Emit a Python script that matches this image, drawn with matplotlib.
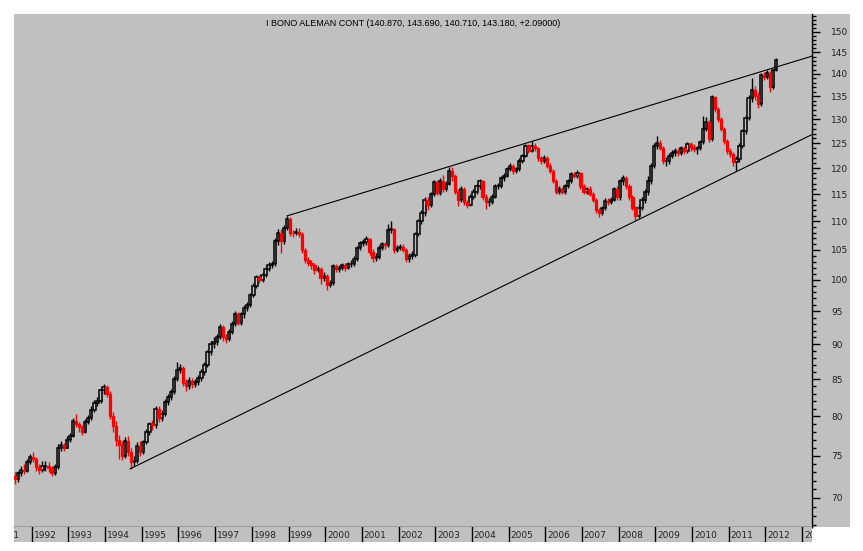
import matplotlib as mpl
mpl.use("Agg")
import matplotlib.pyplot as plt
from matplotlib.patches import Rectangle
from matplotlib.ticker import FixedLocator, NullFormatter
import numpy as np
import pandas as pd

# monthly bars, Jul 1991 .. Apr 2012
first_month = "1991-07"

opens = [
    72.5, 72.2, 72.9, 73.3, 73.2, 74.2,
    74.8, 74.6, 73.6, 73.3, 73.7, 73.8, 73.5, 72.9, 73.6, 76.0, 76.3, 76.0,
    77.0, 77.5, 79.4, 79.0, 78.6, 78.0, 79.3, 79.8, 80.8, 81.7, 82.0, 83.5,
    83.9, 83.0, 80.0, 78.7, 77.0, 76.3, 75.0, 76.8, 75.5, 74.2, 74.4, 76.2,
    75.5, 76.7, 78.0, 79.0, 78.8, 81.0, 79.8, 80.3, 81.9, 82.5, 83.3, 85.0,
    86.3, 86.5, 84.5, 84.0, 84.8, 84.3, 84.6, 85.2, 86.0, 87.0, 88.8, 90.0,
    90.3, 91.0, 92.5, 91.0, 90.8, 91.8, 93.0, 94.5, 93.2, 94.5, 95.5, 96.0,
    97.5, 99.0, 100.4, 100.0, 100.8, 101.8, 102.5, 102.6, 106.6, 108.0, 106.5, 108.9,
    110.5, 108.0, 107.9, 108.2, 107.8, 104.9, 103.3, 102.8, 102.4, 101.6, 101.8, 100.3,
    100.6, 99.2, 99.5, 102.2, 101.8, 102.0, 102.4, 102.0, 102.6, 102.6, 103.5, 105.3,
    106.2, 106.3, 106.8, 104.6, 103.6, 103.8, 105.4, 106.0, 105.8, 108.5, 108.7, 105.0,
    105.3, 105.5, 105.0, 103.5, 104.0, 104.2, 107.8, 110.0, 111.5, 114.0, 113.0, 115.0,
    117.3, 115.2, 117.5, 116.0, 117.0, 119.5, 118.5, 115.5, 114.0, 116.0, 113.5, 113.0,
    114.5, 115.5, 116.5, 117.5, 114.5, 113.5, 113.5, 114.5, 116.5, 116.5, 118.0, 118.5,
    119.8, 120.5, 119.5, 119.8, 121.5, 122.5, 124.5, 123.5, 124.5, 124.0, 122.0, 121.5,
    122.0, 120.5, 119.5, 117.5, 115.5, 116.0, 115.5, 116.5, 117.5, 118.8, 118.5, 119.0,
    116.5, 115.5, 116.0, 115.0, 114.0, 112.0, 111.5, 112.5, 113.8, 113.5, 114.0, 116.0,
    114.5, 117.5, 118.0, 116.5, 114.5, 112.5, 111.0, 112.5, 114.0, 115.5, 117.5, 120.5,
    124.5, 125.0, 124.0, 121.5, 121.5, 122.5, 123.0, 123.5, 123.0, 124.0, 123.5, 124.8,
    124.3, 123.8, 124.0, 125.2, 128.0, 129.5, 125.8, 134.8, 132.2, 130.0, 128.0, 125.5,
    123.5, 122.8, 121.2, 121.8, 124.5, 127.5, 130.3, 134.5, 136.4, 135.0, 133.2, 139.8,
    139.4, 140.2, 137.0, 140.87,
]

highs = [
    73.0, 73.2, 73.8, 74.0, 74.6, 75.2,
    75.5, 74.9, 74.0, 74.3, 74.4, 74.2, 73.8, 74.0, 76.5, 76.8, 76.6, 77.4,
    77.9, 79.8, 80.3, 79.3, 78.9, 79.6, 80.2, 81.3, 82.1, 82.6, 83.8, 84.3,
    84.2, 83.4, 80.6, 79.4, 77.6, 76.8, 77.3, 77.5, 76.0, 75.0, 76.7, 76.8,
    77.0, 78.3, 79.3, 79.5, 81.4, 81.4, 80.8, 82.3, 83.0, 83.7, 85.4, 87.4,
    87.2, 86.8, 85.0, 85.3, 85.2, 85.0, 85.6, 86.4, 87.4, 89.2, 90.5, 91.0,
    91.5, 93.0, 92.8, 91.5, 92.2, 93.4, 95.0, 94.8, 94.9, 95.9, 96.5, 97.9,
    99.4, 100.8, 100.7, 101.2, 102.2, 102.9, 103.1, 107.0, 108.6, 108.7, 109.3, 111.0,
    110.8, 108.5, 108.8, 108.9, 108.1, 105.3, 103.8, 103.2, 102.8, 102.2, 102.1, 101.2,
    100.9, 100.0, 102.6, 102.6, 102.4, 102.8, 102.8, 103.0, 103.2, 103.9, 105.7, 106.6,
    106.9, 107.4, 107.1, 105.2, 104.4, 105.8, 106.4, 106.4, 109.5, 110.0, 108.9, 105.9,
    106.0, 106.0, 105.4, 104.5, 104.8, 108.2, 110.5, 112.0, 114.5, 114.5, 115.4, 117.7,
    117.8, 118.0, 118.6, 117.5, 120.3, 120.2, 118.9, 116.0, 116.5, 116.4, 114.0, 115.0,
    116.0, 117.0, 117.9, 117.8, 115.0, 114.2, 115.0, 116.9, 117.1, 118.4, 119.0, 120.3,
    121.0, 120.9, 120.3, 122.0, 122.9, 124.9, 124.8, 125.4, 125.0, 124.3, 122.5, 122.6,
    122.4, 121.0, 119.9, 117.9, 116.6, 116.4, 116.9, 117.9, 119.2, 119.3, 119.6, 119.3,
    116.9, 116.4, 116.5, 115.4, 114.3, 112.5, 112.9, 114.3, 114.3, 114.5, 116.4, 116.5,
    117.9, 118.6, 118.5, 116.9, 114.9, 112.9, 113.0, 114.4, 116.0, 118.5, 121.0, 125.0,
    126.5, 125.6, 124.4, 122.3, 123.0, 123.6, 124.0, 124.0, 124.5, 124.5, 125.3, 125.2,
    124.9, 124.5, 125.6, 130.6, 130.4, 129.9, 135.3, 135.0, 132.6, 130.4, 128.4, 125.9,
    124.0, 123.3, 122.5, 125.0, 128.0, 130.8, 135.2, 139.0, 137.2, 136.0, 140.3, 140.5,
    140.8, 140.6, 141.2, 143.69,
]

lows = [
    71.6, 71.9, 72.6, 72.8, 73.0, 74.0,
    74.2, 73.2, 72.8, 73.0, 73.2, 73.0, 72.5, 72.7, 73.4, 75.6, 75.6, 75.9,
    76.7, 77.3, 78.6, 78.0, 77.6, 77.8, 79.0, 79.5, 80.5, 81.3, 81.8, 83.0,
    82.5, 79.7, 78.0, 76.2, 74.6, 74.5, 74.7, 75.0, 73.4, 73.7, 74.1, 75.0,
    75.2, 76.4, 77.6, 78.2, 78.5, 79.3, 79.4, 80.0, 81.5, 82.1, 83.0, 84.8,
    85.8, 84.0, 83.4, 83.7, 83.8, 83.9, 84.2, 84.8, 85.6, 86.7, 88.4, 89.5,
    89.9, 90.7, 90.5, 90.2, 90.4, 91.5, 92.7, 92.8, 92.9, 94.0, 95.0, 95.7,
    97.2, 98.7, 99.4, 99.7, 100.5, 101.4, 102.0, 102.3, 105.9, 104.4, 106.1, 108.5,
    107.4, 107.3, 107.5, 107.2, 104.5, 102.7, 102.3, 101.8, 101.0, 101.2, 99.3, 99.8,
    98.3, 98.8, 99.2, 101.2, 101.3, 101.6, 101.4, 101.7, 102.1, 102.2, 103.1, 104.9,
    105.6, 105.9, 104.2, 103.0, 103.1, 103.5, 105.0, 105.2, 105.5, 107.9, 104.5, 104.6,
    104.9, 104.6, 102.9, 103.0, 103.4, 103.8, 107.4, 109.5, 111.0, 112.0, 112.6, 114.6,
    114.8, 114.9, 115.5, 115.6, 116.7, 117.6, 115.0, 112.8, 113.6, 113.0, 112.4, 112.8,
    114.1, 115.0, 116.0, 114.0, 112.2, 112.9, 113.1, 114.2, 115.9, 116.1, 117.5, 118.2,
    119.4, 118.9, 119.0, 119.5, 121.1, 122.2, 123.0, 123.2, 123.5, 121.5, 120.8, 121.0,
    120.1, 119.1, 117.1, 115.0, 115.1, 115.0, 115.1, 116.1, 117.1, 118.0, 118.1, 116.0,
    115.0, 115.1, 114.6, 113.6, 111.6, 110.8, 111.1, 112.1, 113.0, 113.1, 113.7, 114.0,
    114.0, 116.8, 116.0, 114.0, 112.1, 110.2, 110.6, 112.0, 113.4, 114.8, 117.0, 120.0,
    123.9, 123.6, 120.9, 120.5, 120.9, 122.0, 122.5, 122.4, 122.7, 122.8, 123.0, 123.5,
    123.3, 122.9, 123.7, 124.9, 127.6, 125.3, 125.4, 131.5, 129.5, 127.5, 124.9, 122.8,
    122.2, 120.5, 119.4, 121.3, 124.1, 127.0, 129.8, 133.8, 134.2, 132.5, 132.9, 138.6,
    138.9, 136.0, 136.6, 140.71,
]

closes = [
    72.2, 72.9, 73.3, 73.2, 74.2, 74.8,
    74.6, 73.6, 73.3, 73.7, 73.8, 73.5, 72.9, 73.6, 76.0, 76.3, 76.0, 77.0,
    77.5, 79.4, 79.0, 78.6, 78.0, 79.3, 79.8, 80.8, 81.7, 82.0, 83.5, 83.9,
    83.0, 80.0, 78.7, 77.0, 76.3, 75.0, 76.8, 75.5, 74.2, 74.4, 76.2, 75.5,
    76.7, 78.0, 79.0, 78.8, 81.0, 79.8, 80.3, 81.9, 82.5, 83.3, 85.0, 86.3,
    86.5, 84.5, 84.0, 84.8, 84.3, 84.6, 85.2, 86.0, 87.0, 88.8, 90.0, 90.3,
    91.0, 92.5, 91.0, 90.8, 91.8, 93.0, 94.5, 93.2, 94.5, 95.5, 96.0, 97.5,
    99.0, 100.4, 100.0, 100.8, 101.8, 102.5, 102.6, 106.6, 108.0, 106.5, 108.9, 110.5,
    108.0, 107.9, 108.2, 107.8, 104.9, 103.3, 102.8, 102.4, 101.6, 101.8, 100.3, 100.6,
    99.2, 99.5, 102.2, 101.8, 102.0, 102.4, 102.0, 102.6, 102.6, 103.5, 105.3, 106.2,
    106.3, 106.8, 104.6, 103.6, 103.8, 105.4, 106.0, 105.8, 108.5, 108.7, 105.0, 105.3,
    105.5, 105.0, 103.5, 104.0, 104.2, 107.8, 110.0, 111.5, 114.0, 113.0, 115.0, 117.3,
    115.2, 117.5, 116.0, 117.0, 119.5, 118.5, 115.5, 114.0, 116.0, 113.5, 113.0, 114.5,
    115.5, 116.5, 117.5, 114.5, 113.5, 113.5, 114.5, 116.5, 116.5, 118.0, 118.5, 119.8,
    120.5, 119.5, 119.8, 121.5, 122.5, 124.5, 123.5, 124.5, 124.0, 122.0, 121.5, 122.0,
    120.5, 119.5, 117.5, 115.5, 116.0, 115.5, 116.5, 117.5, 118.8, 118.5, 119.0, 116.5,
    115.5, 116.0, 115.0, 114.0, 112.0, 111.5, 112.5, 113.8, 113.5, 114.0, 116.0, 114.5,
    117.5, 118.0, 116.5, 114.5, 112.5, 111.0, 112.5, 114.0, 115.5, 117.5, 120.5, 124.5,
    125.0, 124.0, 121.5, 121.5, 122.5, 123.0, 123.5, 123.0, 124.0, 123.5, 124.8, 124.3,
    123.8, 124.0, 125.2, 128.0, 129.5, 125.8, 134.8, 132.2, 130.0, 128.0, 125.5, 123.5,
    122.8, 121.2, 121.8, 124.5, 127.5, 130.3, 134.5, 136.4, 135.0, 133.2, 139.8, 139.4,
    140.2, 137.0, 140.8, 143.18,
]

# trend lines: (decimal year, price) end points
upper_line = ([1998.96, 2013.30], [111.0, 144.2])
lower_line = ([1994.68, 2013.30], [73.4, 126.9])

title = "I BONO ALEMAN CONT (140.870, 143.690, 140.710, 143.180, +2.09000)"
years = list(range(1991, 2014))
price_ticks = list(range(70, 151, 5))

BG = "#c0c0c0"
TXT = "#222222"

months = pd.period_range(first_month, periods=len(closes), freq="M")
t = np.asarray(months.year + (months.month - 0.5) / 12.0, dtype=float)
o = np.array(opens)
h = np.array(highs)
l = np.array(lows)
c = np.array(closes)
up = c >= o

W, H = 863, 551
fig = plt.figure(figsize=(W / 100, H / 100), dpi=100)
fig.patch.set_facecolor("white")

# grey panel behind the price labels (drawn under the axes)
fig.patches.append(Rectangle((812 / W, 1 - 527 / H), 38 / W, 513 / H,
                             transform=fig.transFigure, facecolor=BG,
                             edgecolor="none", zorder=-10))

ax = fig.add_axes([14 / W, 1 - 527 / H, 798 / W, 513 / H])
ax.set_facecolor(BG)
axb = fig.add_axes([14 / W, 1 - 542 / H, 798 / W, 15 / H], sharex=ax)
axb.set_facecolor(BG)

# candles
ax.vlines(t[up], l[up], h[up], color="black", lw=1, zorder=2)
ax.vlines(t[~up], l[~up], h[~up], color="red", lw=1, zorder=2)
bw = 0.75 / 12
ax.bar(t[up], (c - o)[up], bottom=o[up], width=bw, facecolor=BG,
       edgecolor="black", lw=1.1, zorder=3)
ax.bar(t[~up], (o - c)[~up], bottom=c[~up], width=bw, facecolor="red",
       edgecolor="red", lw=0.9, zorder=3)

ax.plot(*upper_line, color="black", lw=0.8, zorder=4)
ax.plot(*lower_line, color="black", lw=0.8, zorder=4)

ax.set_yscale("log")
ax.set_ylim(66.75, 154.4)
ax.set_xlim(1991.517, 2013.27)
ax.yaxis.tick_right()
ax.yaxis.set_major_locator(FixedLocator(price_ticks))
ax.yaxis.set_minor_locator(FixedLocator(range(67, 155)))
ax.yaxis.set_minor_formatter(NullFormatter())
ax.set_yticklabels([str(v) for v in price_ticks])
ax.tick_params(axis="y", which="major", length=6, width=1, pad=8,
               labelsize=6.5, labelcolor=TXT, direction="out")
ax.tick_params(axis="y", which="minor", length=3, width=1, direction="out")
ax.tick_params(axis="x", bottom=False, labelbottom=False)
for s in ["left", "top"]:
    ax.spines[s].set_visible(False)
ax.spines["right"].set_linewidth(1)
ax.spines["bottom"].set_linewidth(1)

ax.text(0.5, 1 - 10 / 513, title, transform=ax.transAxes, ha="center",
        va="center", fontsize=6.5, family="Liberation Sans", color="black")

# year strip
axb.set_ylim(0, 1)
for y in years:
    axb.axvline(y, color="black", lw=1)
    axb.text(y + 0.05, 0.45, str(y), va="center", ha="left", fontsize=6.5,
             color=TXT, clip_on=True)
axb.set_xticks([])
axb.set_yticks([])
for s in axb.spines.values():
    s.set_visible(False)

fig.savefig("out.png", dpi=100, facecolor="white")
